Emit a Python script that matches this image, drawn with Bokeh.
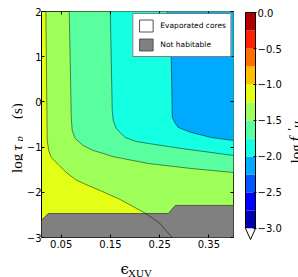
from math import pi
from bokeh.plotting import figure
from bokeh.models import Range1d, LinearAxis, FixedTicker, Label, Legend, LegendItem
from bokeh.layouts import row, column
from bokeh.embed import file_html
from bokeh.resources import INLINE

# ---- data ----
levels = [-3.0, -2.75, -2.5, -2.25, -2.0, -1.75, -1.5, -1.25, -1.0, -0.75, -0.5, -0.25, 0.0]
band_colors = ["#0000b0", "#0000ff", "#0055ff", "#00aaff", "#15ffe2", "#59ff9e",
               "#9eff59", "#e2ff15", "#ffbf00", "#ff6f00", "#ff2100", "#b00000"]

# contour log f'_H = -1.25
c125_x = [0.0189, 0.0206, 0.0216, 0.0246, 0.0297, 0.044, 0.0602, 0.0805, 0.105, 0.129, 0.17, 0.222, 0.251, 0.263, 0.276]
c125_y = [2.0, 0.142, -0.854, -1.075, -1.23, -1.385, -1.562, -1.73, -1.85, -1.96, -2.16, -2.47, -2.69, -2.85, -3.0]
# contour -1.5
c150_x = [0.0663, 0.0683, 0.0704, 0.0724, 0.0785, 0.0948, 0.115, 0.129, 0.155, 0.227, 0.314, 0.40]
c150_y = [2.0, 0.916, -0.345, -0.633, -0.81, -0.965, -1.075, -1.12, -1.21, -1.363, -1.473, -1.562]
# contour -1.75
c175_x = [0.1497, 0.1517, 0.1537, 0.1557, 0.1618, 0.17, 0.180, 0.2025, 0.227, 0.294, 0.40]
c175_y = [2.0, 0.916, -0.19, -0.41, -0.588, -0.677, -0.788, -0.876, -0.92, -1.03, -1.186]
# contour -2.0
c200_x = [0.2655, 0.2716, 0.2736, 0.2757, 0.2818, 0.2879, 0.3143, 0.355, 0.40]
c200_y = [2.0, 1.58, 0.916, -0.345, -0.478, -0.566, -0.677, -0.788, -0.854]

# not habitable region
habit_x = [0.01, 0.01, 0.0236, 0.2675, 0.2817, 0.40, 0.40]
habit_y = [-3.0, -2.62, -2.47, -2.47, -2.29, -2.29, -3.0]

x_ticks = [0.05, 0.15, 0.25, 0.35]
x_tick_labels = ["0.05", "0.15", "0.25", "0.35"]
y_ticks = [-3, -2, -1, 0, 1, 2]
y_tick_labels = ["\u22123", "\u22122", "\u22121", "0", "1", "2"]
cb_ticks = [0.0, -0.5, -1.0, -1.5, -2.0, -2.5, -3.0]
cb_tick_labels = ["0.0", "\u22120.5", "\u22121.0", "\u22121.5", "\u22122.0", "\u22122.5", "\u22123.0"]
legend_labels = ["Evaporated cores", "Not habitable"]

X0, X1, Y0, Y1 = 0.01, 0.40, -3.0, 2.0
SERIF = "Liberation Serif"
TOP_H = 251

# ---- main panel ----
p = figure(frame_width=192, frame_height=226, min_border_left=15, min_border_right=6,
           min_border_top=11, min_border_bottom=TOP_H - 11 - 226,
           x_range=Range1d(X0, X1), y_range=Range1d(Y0, Y1),
           output_backend="svg", toolbar_location=None)
p.background_fill_color = band_colors[7]
p.border_fill_color = "white"
p.outline_line_color = "black"
p.outline_line_width = 1
p.outline_line_alpha = 1
p.grid.visible = False

def style_axis(ax, show_labels=True):
    ax.axis_line_color = None
    ax.major_tick_in = 3
    ax.major_tick_out = 0
    ax.major_tick_line_color = "black"
    ax.minor_tick_line_color = None
    ax.major_label_text_font = "DejaVu Sans"
    if show_labels:
        ax.major_label_text_color = "black"
        ax.major_label_text_font_size = "10px"
        ax.major_label_standoff = 0
    else:
        ax.major_label_text_color = None
        ax.major_label_text_font_size = "1px"
        ax.major_label_standoff = 0

xa = p.xaxis[0]
ya = p.yaxis[0]
style_axis(xa)
style_axis(ya)
xa.major_label_standoff = 2
xa.ticker = FixedTicker(ticks=x_ticks)
xa.major_label_overrides = {t: s for t, s in zip(x_ticks, x_tick_labels)}
ya.ticker = FixedTicker(ticks=y_ticks)
ya.major_label_overrides = {float(t): s for t, s in zip(y_ticks, y_tick_labels)}

ra = LinearAxis(ticker=FixedTicker(ticks=y_ticks))
style_axis(ra, False)
p.add_layout(ra, "right")
ta = LinearAxis(ticker=FixedTicker(ticks=x_ticks))
style_axis(ta, False)
p.add_layout(ta, "above")

# filled contour bands (nested regions toward upper right)
p.patch(c125_x + [X1, X1], c125_y + [Y0, Y1], fill_color=band_colors[6], line_color=None)
p.patch(c150_x + [X1], c150_y + [Y1], fill_color=band_colors[5], line_color=None)
p.patch(c175_x + [X1], c175_y + [Y1], fill_color=band_colors[4], line_color=None)
p.patch(c200_x + [X1], c200_y + [Y1], fill_color=band_colors[3], line_color=None)

gray = p.patch(habit_x, habit_y, fill_color="#808080", line_color="#404040", line_width=0.8)
# legend proxy (no evaporated-core region inside the view)
evap = p.patch([X0 - 1, X0 - 0.9, X0 - 0.9], [Y0 - 1, Y0 - 1, Y0 - 0.9],
               fill_color="white", line_color="#555555", line_width=1)

for xs, ys in [(c125_x, c125_y), (c150_x, c150_y), (c175_x, c175_y), (c200_x, c200_y)]:
    p.line(xs, ys, line_color="black", line_width=0.6, line_alpha=0.8)

legend = Legend(items=[LegendItem(label=legend_labels[0], renderers=[evap]),
                       LegendItem(label=legend_labels[1], renderers=[gray])],
                location="top_right", margin=2, padding=4, spacing=4,
                glyph_width=17, glyph_height=15, label_height=15, label_standoff=6,
                label_text_font="DejaVu Sans", label_text_font_size="7.5px",
                label_text_color="black",
                border_line_color="black", border_line_width=1,
                background_fill_color="white", background_fill_alpha=1)
p.add_layout(legend)

# ---- colour bar ----
cb = figure(frame_width=12, frame_height=229, min_border_left=5, min_border_right=27,
            min_border_top=9, min_border_bottom=TOP_H - 9 - 229,
            x_range=Range1d(-0.1, 1.1), y_range=Range1d(-3.1667, 0.0139),
            x_axis_location=None, y_axis_location=None,
            output_backend="svg", toolbar_location=None)
cb.grid.visible = False
cb.outline_line_color = None
cb.background_fill_color = "white"
cb.border_fill_color = "white"
cb.quad(left=0, right=1, bottom=levels[:-1], top=levels[1:], fill_color=band_colors, line_color=None)
tri_depth = 0.1528
cb.patch([0, 1, 0.5], [levels[0], levels[0], levels[0] - tri_depth], fill_color="white", line_color=None)
cb.line([0, 1, 1, 0.5, 0, 0], [levels[-1], levels[-1], levels[0], levels[0] - tri_depth, levels[0], levels[-1]],
        line_color="black", line_width=1)
cba = LinearAxis(ticker=FixedTicker(ticks=cb_ticks))
cba.axis_line_color = None
cba.major_tick_in = 3
cba.major_tick_out = 0
cba.major_tick_line_color = "black"
cba.minor_tick_line_color = None
cba.major_label_text_font = "DejaVu Sans"
cba.major_label_text_font_size = "10px"
cba.major_label_text_color = "black"
cba.major_label_standoff = 1
cba.major_label_overrides = {t: s for t, s in zip(cb_ticks, cb_tick_labels)}
cb.add_layout(cba, "right")

# ---- text panels for the mathematical axis titles ----
def text_panel(w, h):
    f = figure(frame_width=w, frame_height=h, min_border=0,
               x_range=Range1d(0, w), y_range=Range1d(0, h),
               x_axis_location=None, y_axis_location=None,
               output_backend="svg", toolbar_location=None)
    f.outline_line_color = None
    f.grid.visible = False
    f.background_fill_color = "white"
    f.border_fill_color = "white"
    return f

def lab(fig, text, x, y, size, style="normal", angle=0.0, font=SERIF):
    fig.add_layout(Label(x=x, y=y, x_units="screen", y_units="screen", text=text,
                         text_font=font, text_font_size=size, text_font_style=style,
                         angle=angle, text_align="left", text_baseline="alphabetic",
                         text_color="black"))

# y title: log tau_p (s)
ylab = text_panel(23, TOP_H)
lab(ylab, "log", 16, 89.5, "15px", angle=pi / 2)
lab(ylab, "\u03c4", 16, 112, "15px", style="italic", angle=pi / 2)
lab(ylab, "p", 19, 121, "10.5px", style="italic", angle=pi / 2)
lab(ylab, "(s)", 16, 143.5, "15px", angle=pi / 2)

# colour-bar title: log f'_H
cblab = text_panel(18, TOP_H)
lab(cblab, "log", 11, 99, "15px", angle=pi / 2)
lab(cblab, "f", 11, 121, "16px", style="italic", angle=pi / 2)
lab(cblab, "\u2032", 7.5, 132, "12px", angle=pi / 2)
lab(cblab, "H", 13.5, 134, "10px", style="italic", angle=pi / 2)

# x title: eps_XUV
xlab = text_panel(298, 26)
lab(xlab, "\u03f5", 120, 9, "15px", font="DejaVu Serif")
lab(xlab, "XUV", 127.5, 5, "11px")

layout = column(row(ylab, p, cb, cblab), xlab)
open("out.html", "w").write(file_html(layout, INLINE))
